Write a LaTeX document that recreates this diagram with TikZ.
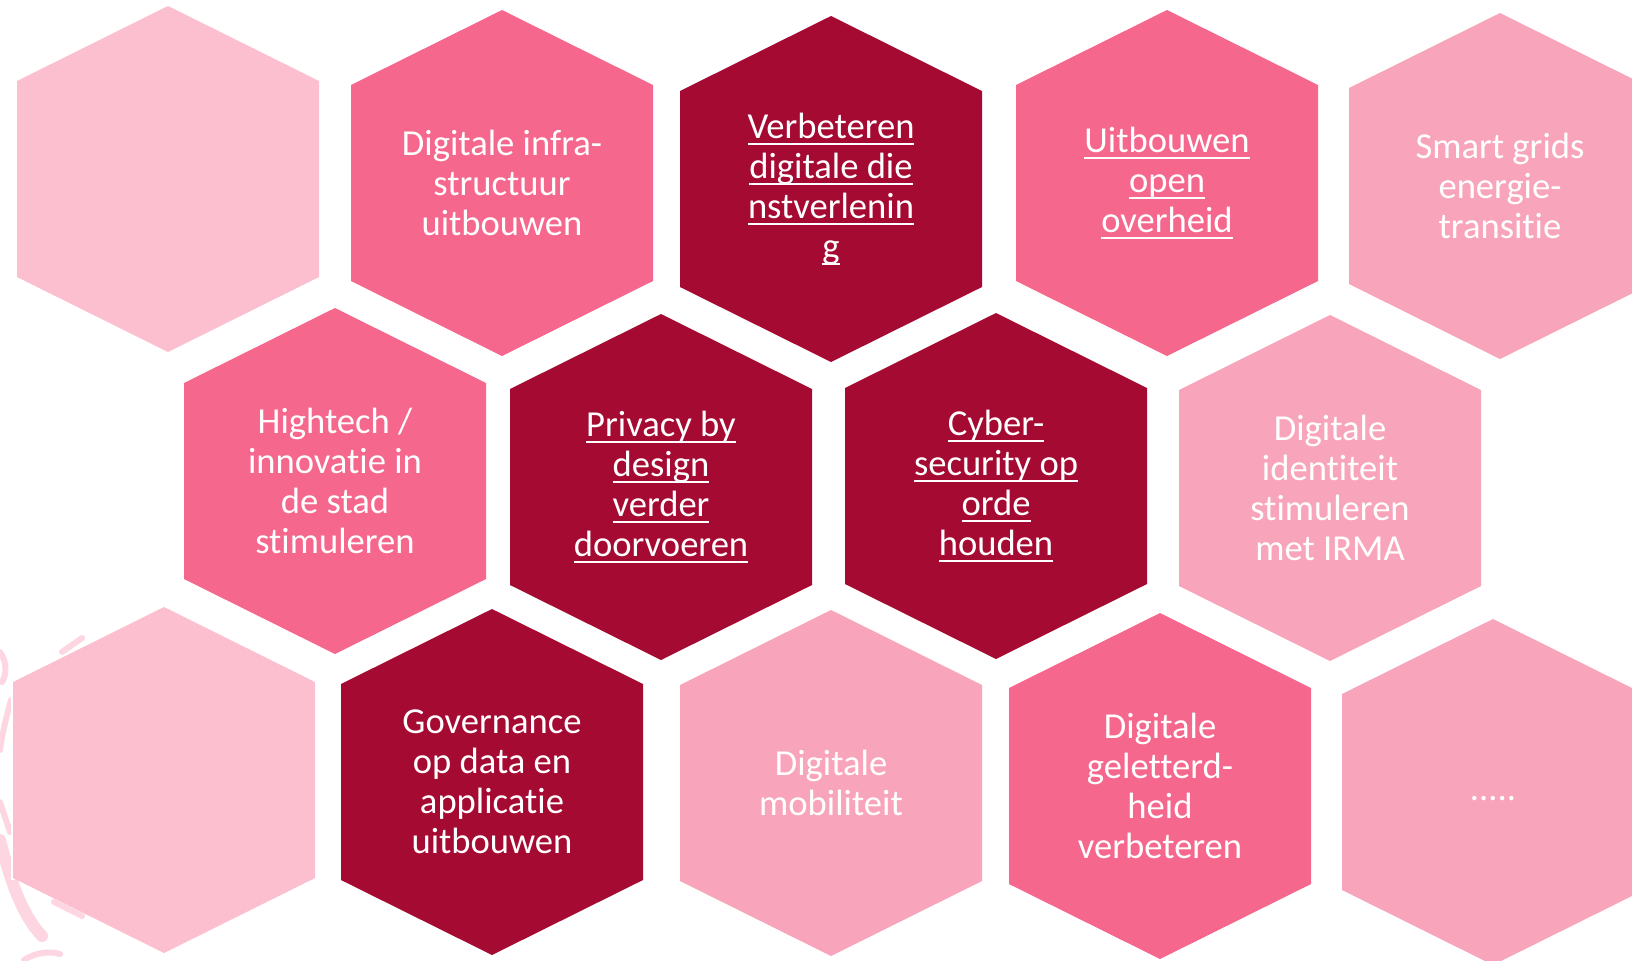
\documentclass[tikz,border=0pt]{standalone}
\usepackage{fontspec}
\setmainfont{Carlito}[Ligatures={NoCommon}]
\usepackage{tikz}
\usetikzlibrary{backgrounds}

\definecolor{hexpale}{RGB}{252,191,208}
\definecolor{hexrose}{RGB}{245,103,140}
\definecolor{hexwine}{RGB}{165,10,50}
\definecolor{hexlight}{RGB}{248,165,187}
\definecolor{swirl}{RGB}{253,214,226}

\newsavebox{\hexulbox}
\newcommand{\hexul}[1]{\sbox{\hexulbox}{#1}\rlap{\rule[-3.2pt]{\wd\hexulbox}{1.2pt}}\usebox{\hexulbox}}
\newcommand{\hexfill}[2]{\fill[#2] (#1) ++(0,-173) -- ++(151,75) -- ++(0,196) -- ++(-151,75) -- ++(-151,-75) -- ++(0,-196) -- cycle;}

\tikzset{
  hextext/.style={text=white, align=center, inner sep=0pt, font=\fontsize{18.3}{20}\selectfont},
  swirlline/.style={draw=swirl, line width=3pt, line cap=round}
}

\begin{document}
\begin{tikzpicture}[x=0.5pt, y=-0.5pt]
\useasboundingbox (0,0) rectangle (1632,960);
\clip (0,0) rectangle (1632,960);

\path
(168,179) coordinate (blank-top)
(502,183) node[hextext] (infra) {Digitale infra-\\structuur\\uitbouwen}
(831,189) node[hextext] (dienst) {\hexul{Verbeteren}\\\hexul{digitale die}\\\hexul{nstverlenin}\\\hexul{g}}
(1167,183) node[hextext] (open) {\hexul{Uitbouwen}\\\hexul{open}\\\hexul{overheid}}
(1500,186) node[hextext] (grids) {Smart grids\\energie-\\transitie}
(335,481) node[hextext] (hightech) {Hightech /\\innovatie in\\de stad\\stimuleren}
(661,487) node[hextext] (privacy) {\hexul{Privacy by}\\\hexul{design}\\\hexul{verder}\\\hexul{doorvoeren}}
(996,486) node[hextext] (cyber) {\hexul{Cyber-}\\\hexul{security op}\\\hexul{orde}\\\hexul{houden}}
(1330,488) node[hextext] (irma) {Digitale\\identiteit\\stimuleren\\met IRMA}
(164,780) coordinate (blank-bottom)
(492,782) node[hextext] (governance) {Governance\\op data en\\applicatie\\uitbouwen}
(831,783) node[hextext] (mobiliteit) {Digitale\\mobiliteit}
(1160,786) node[hextext] (geletterdheid) {Digitale\\geletterd-\\heid\\verbeteren}
(1493,792) node[hextext] (more) {\strut.....};

\begin{scope}[on background layer]
% faint swirl at the left edge
\draw[swirlline] (0,652) .. controls (7,662) and (7,674) .. (2,682);
\draw[swirlline] (62,652) -- (82,638);
\draw[swirlline] (11,700) .. controls (6,718) and (2,735) .. (0,750);
\draw[swirlline] (0,802) -- (10,832);
\draw[swirlline, line width=6pt] (0,840) .. controls (10,880) and (22,915) .. (42,936);
\draw[swirlline] (54,902) -- (82,916);
\draw[swirlline] (24,960) .. controls (36,952) and (50,951) .. (60,954);
\hexfill{blank-top}{hexpale}
\hexfill{infra}{hexrose}
\hexfill{dienst}{hexwine}
\hexfill{open}{hexrose}
\hexfill{grids}{hexlight}
\hexfill{hightech}{hexrose}
\hexfill{privacy}{hexwine}
\hexfill{cyber}{hexwine}
\hexfill{irma}{hexlight}
\fill[white] (blank-bottom) ++(-153,-100) rectangle ++(4,200);
\hexfill{blank-bottom}{hexpale}
\hexfill{governance}{hexwine}
\hexfill{mobiliteit}{hexlight}
\hexfill{geletterdheid}{hexrose}
\hexfill{more}{hexlight}
\end{scope}
\end{tikzpicture}
\end{document}
